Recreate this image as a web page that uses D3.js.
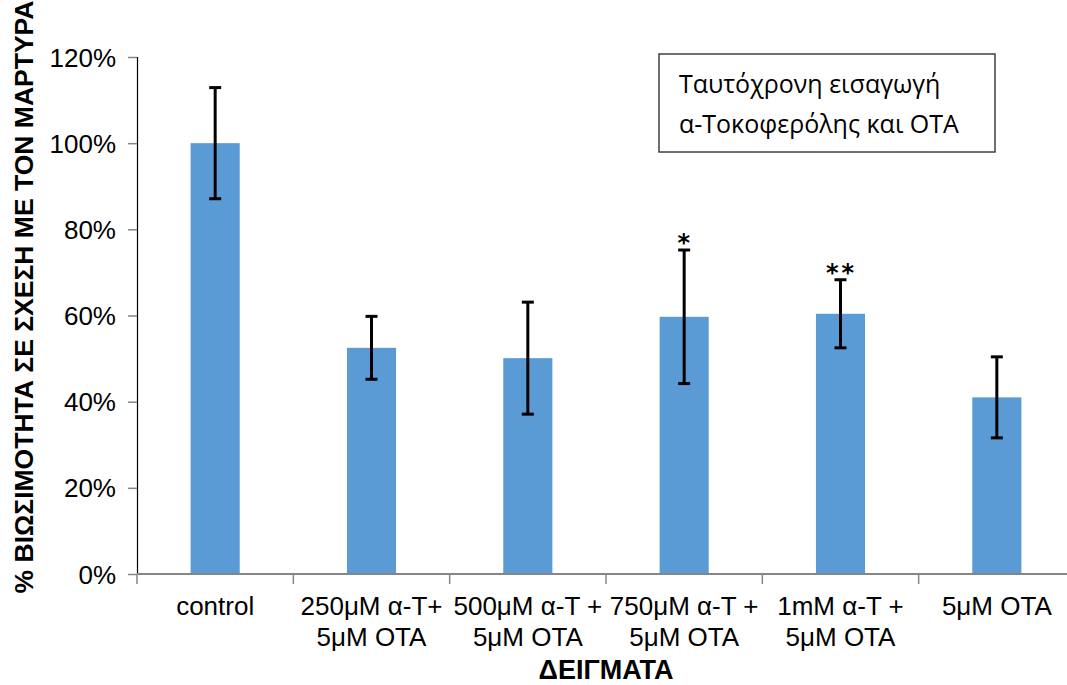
<!DOCTYPE html>
<html>
  <head>
    <meta charset="utf-8">
    <title>Βιωσιμότητα</title>
    <style>
      body { margin: 0; background: white; }
      svg { display: block; }
      .tick text { font-family: "Liberation Sans", Arial, sans-serif; }
    </style>
  </head>
  <body>
    <div id="chart"></div>
    <script src="https://d3js.org/d3.v7.min.js"></script>
    <script>
      var categories = ["control", "250μM α-T+|5μM OTA", "500μM α-T +|5μM OTA",
                        "750μM α-T +|5μM OTA", "1mM α-T +|5μM OTA", "5μM OTA"];
      var values = [1.00, 0.525, 0.501, 0.597, 0.604, 0.41];
      var errors = [0.129, 0.073, 0.13, 0.155, 0.079, 0.094];
      var marks = ["", "", "", "*", "**", ""];
      var yTicks = [0, 0.2, 0.4, 0.6, 0.8, 1.0, 1.2];
      var legendLines = ["Ταυτόχρονη εισαγωγή", "α-Τοκοφερόλης και ΟΤΑ"];

      var width = 1067, height = 685;
      var mLeft = 137, mTop = 57, mBottom = 574, mRight = 1075;

      var svg = d3.select("#chart").append("svg")
        .attr("width", width)
        .attr("height", height);

      var x = d3.scaleBand()
        .domain(categories)
        .range([mLeft, mRight])
        .paddingInner(0.686)
        .paddingOuter(0.343);

      var y = d3.scaleLinear()
        .domain([0, 1.2])
        .range([mBottom, mTop]);

      function cx(i) { return x(categories[i]) + x.bandwidth() / 2; }

      // bars
      svg.selectAll("rect.bar")
        .data(values)
        .enter()
        .append("rect")
        .attr("class", "bar")
        .attr("x", function(d, i) { return x(categories[i]); })
        .attr("width", x.bandwidth())
        .attr("y", function(d) { return y(d); })
        .attr("height", function(d) { return y(0) - y(d); })
        .attr("fill", "#5B9BD5");

      // error bars
      var eb = svg.selectAll("g.err")
        .data(values)
        .enter()
        .append("g")
        .attr("class", "err")
        .attr("stroke", "black")
        .attr("stroke-width", 3);
      eb.append("line")
        .attr("x1", function(d, i) { return cx(i); })
        .attr("x2", function(d, i) { return cx(i); })
        .attr("y1", function(d, i) { return y(d + errors[i]); })
        .attr("y2", function(d, i) { return y(d - errors[i]); });
      eb.append("line")
        .attr("x1", function(d, i) { return cx(i) - 6; })
        .attr("x2", function(d, i) { return cx(i) + 6; })
        .attr("y1", function(d, i) { return y(d + errors[i]); })
        .attr("y2", function(d, i) { return y(d + errors[i]); });
      eb.append("line")
        .attr("x1", function(d, i) { return cx(i) - 6; })
        .attr("x2", function(d, i) { return cx(i) + 6; })
        .attr("y1", function(d, i) { return y(d - errors[i]); })
        .attr("y2", function(d, i) { return y(d - errors[i]); });

      // significance marks
      svg.selectAll("text.mark")
        .data(marks)
        .enter()
        .append("text")
        .attr("class", "mark")
        .attr("x", function(d, i) { return cx(i) + 1; })
        .attr("y", function(d, i) { return y(values[i] + errors[i]) + 1; })
        .attr("text-anchor", "middle")
        .attr("font-family", "DejaVu Sans, sans-serif")
        .attr("font-weight", "bold")
        .attr("font-size", 24)
        .attr("letter-spacing", 3)
        .text(function(d) { return d; });

      // y axis
      var yAxis = svg.append("g")
        .attr("transform", "translate(" + mLeft + ",0)")
        .call(d3.axisLeft(y).tickValues(yTicks).tickSize(9).tickPadding(12)
          .tickFormat(function(d) { return Math.round(d * 100) + "%"; }));
      yAxis.select(".domain").attr("stroke", "black").attr("stroke-width", 1.2);
      yAxis.selectAll(".tick line").attr("stroke", "#868686").attr("stroke-width", 1.5);
      yAxis.selectAll(".tick text").attr("font-size", 26).attr("fill", "black")
        .attr("dy", "0.35em");

      // x axis
      var xAxis = svg.append("g")
        .attr("transform", "translate(0," + mBottom + ")");
      xAxis.append("line")
        .attr("x1", mLeft).attr("x2", mRight)
        .attr("stroke", "#868686").attr("stroke-width", 2);
      xAxis.selectAll("line.tk")
        .data(d3.range(categories.length + 1))
        .enter()
        .append("line")
        .attr("class", "tk")
        .attr("x1", function(i) { return mLeft + i * x.step(); })
        .attr("x2", function(i) { return mLeft + i * x.step(); })
        .attr("y1", 0).attr("y2", 10)
        .attr("stroke", "#868686").attr("stroke-width", 1.5);
      var xl = xAxis.selectAll("text.cat")
        .data(categories)
        .enter()
        .append("text")
        .attr("class", "cat")
        .attr("text-anchor", "middle")
        .attr("font-family", "Liberation Sans, Arial, sans-serif")
        .attr("font-size", 26)
        .attr("transform", function(d, i) { return "translate(" + cx(i) + ",0)"; });
      xl.selectAll("tspan")
        .data(function(d) { return d.split("|"); })
        .enter()
        .append("tspan")
        .attr("x", 0)
        .attr("y", function(d, i) { return 41 + i * 31; })
        .text(function(d) { return d; });

      // axis titles
      svg.append("text")
        .attr("x", 606).attr("y", 679)
        .attr("text-anchor", "middle")
        .attr("font-family", "Liberation Sans, Arial, sans-serif")
        .attr("font-weight", "bold")
        .attr("font-size", 27)
        .text("ΔΕΙΓΜΑΤΑ");
      svg.append("text")
        .attr("transform", "translate(33,297) rotate(-90)")
        .attr("text-anchor", "middle")
        .attr("font-family", "Liberation Sans, Arial, sans-serif")
        .attr("font-weight", "bold")
        .attr("font-size", 26.5)
        .text("% ΒΙΩΣΙΜΟΤΗΤΑ ΣΕ ΣΧΕΣΗ ΜΕ ΤΟΝ ΜΑΡΤΥΡΑ");

      // legend box
      svg.append("rect")
        .attr("x", 659).attr("y", 54)
        .attr("width", 336).attr("height", 98)
        .attr("fill", "white")
        .attr("stroke", "#404040").attr("stroke-width", 1.5);
      svg.selectAll("text.leg")
        .data(legendLines)
        .enter()
        .append("text")
        .attr("class", "leg")
        .attr("x", 679)
        .attr("y", function(d, i) { return 93 + i * 40; })
        .attr("font-family", "Open Sans, sans-serif")
        .attr("font-size", 25)
        .text(function(d) { return d; });
    </script>
  </body>
</html>
